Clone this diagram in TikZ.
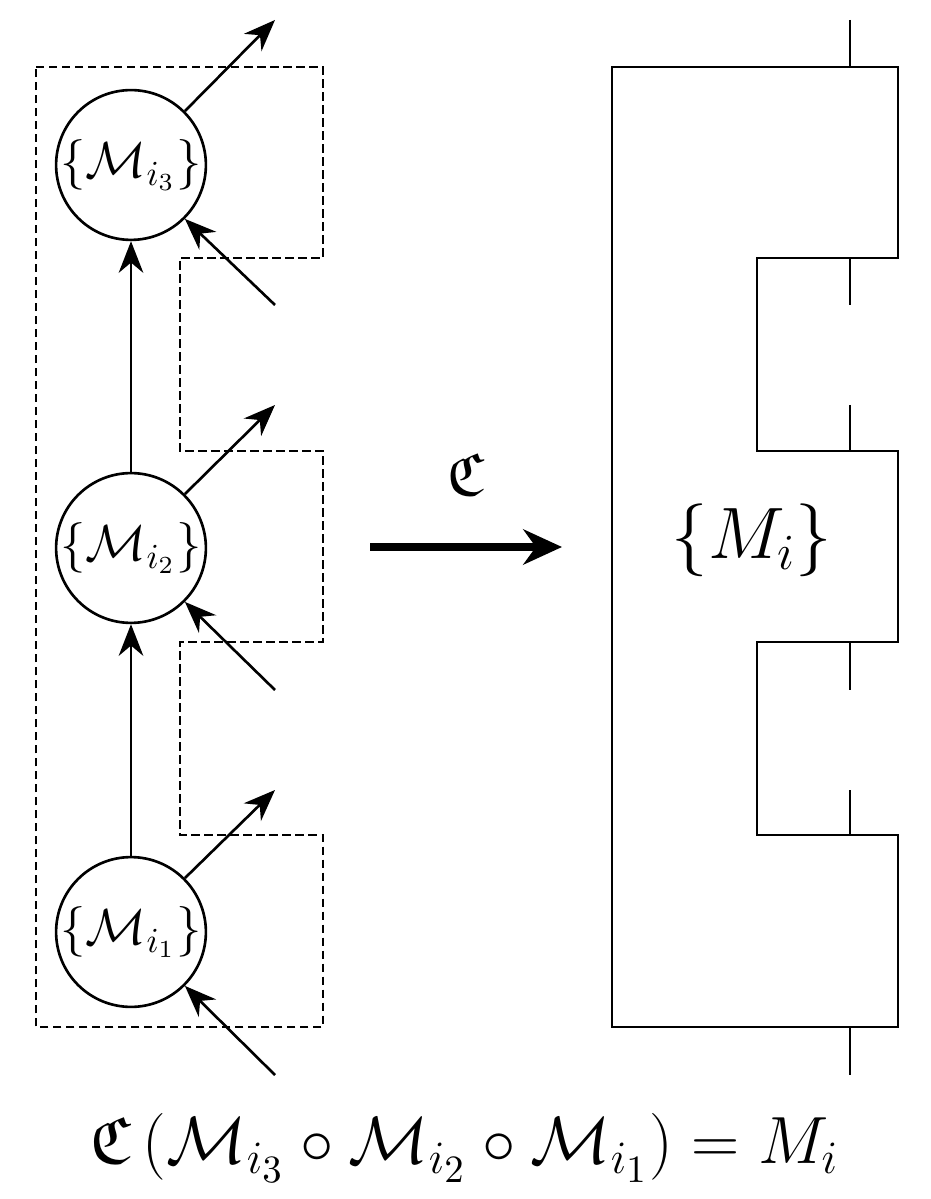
\documentclass[tikz,border=0pt]{standalone}
\usepackage{amsmath,amssymb}
\usetikzlibrary{positioning,arrows.meta}

\begin{document}
\begin{tikzpicture}[
  unit/.style={draw, circle, minimum size=1.46cm, inner sep=0pt, line width=0.75pt,
    font=\fontsize{14.4}{18}\selectfont},
  wire/.style={-{Stealth[length=9pt,width=7pt]}, line width=0.75pt},
  frame/.style={dash pattern=on 2.4pt off 1.3pt, line width=0.75pt},
  block/.style={line width=0.75pt},
]
\useasboundingbox (0,0) rectangle (9.3,-11.99);
% Sequence of units
\node[unit] (m1) at (1.31,-9.32) {$\{\mathcal{M}_{i_1}\}$};
\node[unit] (m2) at (1.31,-5.48) {$\{\mathcal{M}_{i_2}\}$};
\node[unit] (m3) at (1.31,-1.65) {$\{\mathcal{M}_{i_3}\}$};
\draw[wire] (m1) -- (m2);
\draw[wire] (m2) -- (m3);
% Free ends of the side wires
\foreach \k/\yo/\yi in {1/-7.90/-10.75, 2/-4.05/-6.90, 3/-0.20/-3.05} {
  \coordinate (out\k) at (2.75,\yo);
  \coordinate (in\k) at (2.75,\yi);
  \draw[wire] (m\k.45) -- (out\k);
  \draw[wire] (in\k) -- (m\k.-45);
}
% Dashed outline
\draw[frame] (0.36,-0.67) -- (3.23,-0.67) -- (3.23,-2.58) -- (1.80,-2.58) -- (1.80,-4.51)
  -- (3.23,-4.51) -- (3.23,-6.42) -- (1.80,-6.42) -- (1.80,-8.35) -- (3.23,-8.35)
  -- (3.23,-10.27) -- (0.36,-10.27) -- cycle;
% Map
\coordinate (cs) at (3.70,-5.47);
\coordinate (ce) at (5.62,-5.47);
\draw[-{Stealth[length=11pt,width=10pt]}, line width=2.4pt] (cs) -- (ce)
  node[midway, above=10pt, font=\fontsize{17.28}{22}\selectfont] (cmap) {$\mathfrak{C}$};
% Resulting block
\draw[block] (6.12,-0.67) -- (8.98,-0.67) -- (8.98,-2.58) -- (7.57,-2.58) -- (7.57,-4.51)
  -- (8.98,-4.51) -- (8.98,-6.42) -- (7.57,-6.42) -- (7.57,-8.35) -- (8.98,-8.35)
  -- (8.98,-10.27) -- (6.12,-10.27) -- cycle;
\foreach \ya/\yb in {-0.20/-0.67, -2.58/-3.05, -4.05/-4.51, -6.42/-6.90, -7.90/-8.35, -10.27/-10.75} {
  \draw[block] (8.50,\ya) -- (8.50,\yb);
}
\node[font=\fontsize{20.74}{24}\selectfont] (mi) at (7.52,-5.40) {$\{M_i\}$};
% Relation
\node[scale=1.1, font=\fontsize{17.28}{21}\selectfont] (rel) at (4.65,-11.48)
  {$\mathfrak{C}\left(\mathcal{M}_{i_3}\circ\mathcal{M}_{i_2}\circ\mathcal{M}_{i_1}\right)=M_i$};
\end{tikzpicture}
\end{document}
